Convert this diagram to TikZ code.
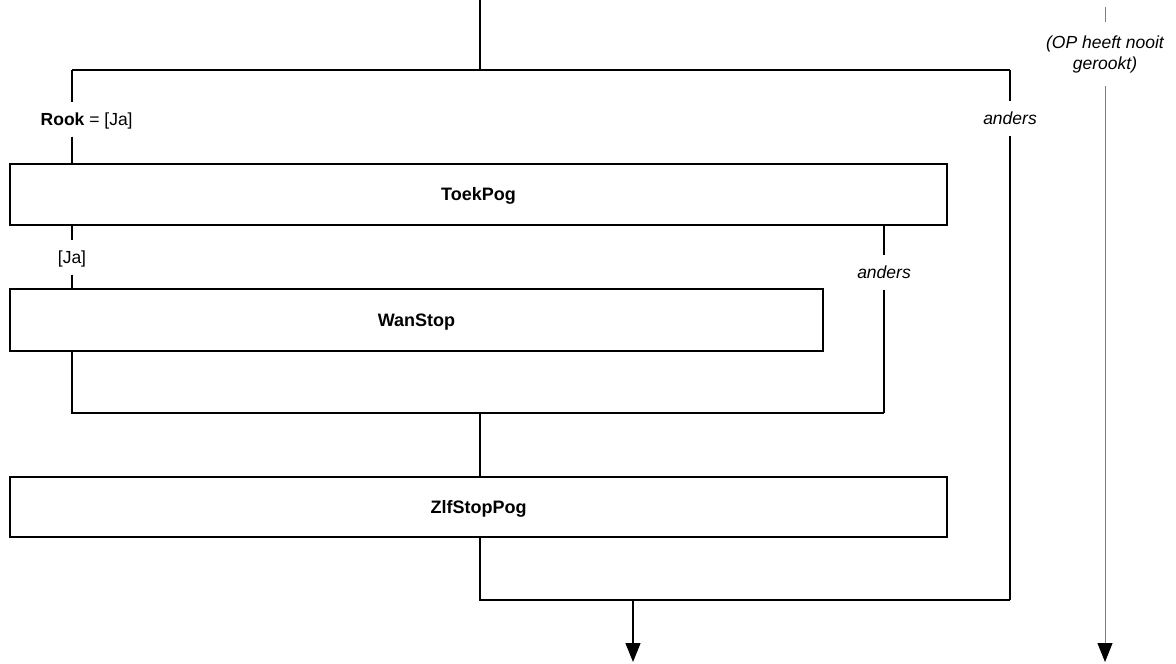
\documentclass[tikz,border=0pt]{standalone}
\usepackage{fontspec}
\setmainfont{Liberation Sans}
\usetikzlibrary{arrows.meta, positioning, calc}

\begin{document}
\begin{tikzpicture}[
  x=1pt, y=-1pt,
  line width=1.4pt,
  box/.style={draw, line width=1.2pt, inner sep=0pt, align=center,
              text height=16pt, text depth=3.5pt,
              font=\fontsize{18}{21}\selectfont\bfseries},
  lbl/.style={inner sep=0pt, minimum height=33pt, text height=16pt, text depth=3.5pt,
              font=\fontsize{17.5}{20}\selectfont},
  note/.style={inner sep=0pt, minimum height=63pt, align=center,
               font=\fontsize{17.5}{21}\selectfont\itshape},
  arrow/.style={-{Triangle[length=19pt, width=15pt, color=black]}},
  grayline/.style={draw=gray, line width=0.9pt}
]
\useasboundingbox (0,0) rectangle (1176,664);
%% JUNCTIONS
\coordinate (in)     at (480,0);
\coordinate (splitL) at (72,70);
\coordinate (splitR) at (1010,70);
\coordinate (mergeA) at (72,413);
\coordinate (mergeB) at (884,413);
\coordinate (mid)    at (480,413);
\coordinate (mergeC) at (480,600);
\coordinate (mergeR) at (1010,600);
\coordinate (out)    at (633,600);
\coordinate (end)    at (633,662);
%% BOXES
\node[box, minimum width=937pt, minimum height=61pt] (toek) at (478.5,194.5) {ToekPog};
\node[box, minimum width=813pt, minimum height=62pt] (wan)  at (416.5,320)   {WanStop};
\node[box, minimum width=937pt, minimum height=60pt] (zlf)  at (478.5,507)   {ZlfStopPog};
%% LABELS
\node[lbl, anchor=west] (rook)    at (40,119.5)   {\textbf{Rook} = [Ja]};
\node[lbl]              (andersA) at (1010,118.5) {\itshape anders};
\node[lbl]              (ja)      at (72,257.5)   {[Ja]};
\node[lbl]              (andersB) at (884,272.5)  {\itshape anders};
%% ROOK SPLIT
\draw (in) -- (splitL -| in);
\draw (splitL) -- (splitR);
\draw (splitL) -- (splitL |- rook.north);
\draw (rook.south -| splitL) -- (toek.north -| splitL);
\draw (splitR) -- (andersA.north);
\draw (andersA.south) -- (mergeR);
%% TOEKPOG SPLIT
\draw (toek.south -| ja) -- (ja.north);
\draw (ja.south) -- (wan.north -| ja);
\draw (toek.south -| andersB) -- (andersB.north);
\draw (andersB.south) -- (mergeB);
\draw (wan.south -| mergeA) -- (mergeA) -- (mergeB);
\draw (mid) -- (zlf.north -| mid);
\draw (zlf.south -| mergeC) -- (mergeC) -- (mergeR);
\draw[arrow] (out) -- (end);
%% NEVER SMOKED
\coordinate (opTop) at (1105,7);
\coordinate (opEnd) at (1105,662);
\node[note] (op) at (1105,54) {(OP heeft nooit\\gerookt)};
\draw[grayline] (opTop) -- (op.north);
\draw[grayline, arrow] (op.south) -- (opEnd);
\end{tikzpicture}
\end{document}
